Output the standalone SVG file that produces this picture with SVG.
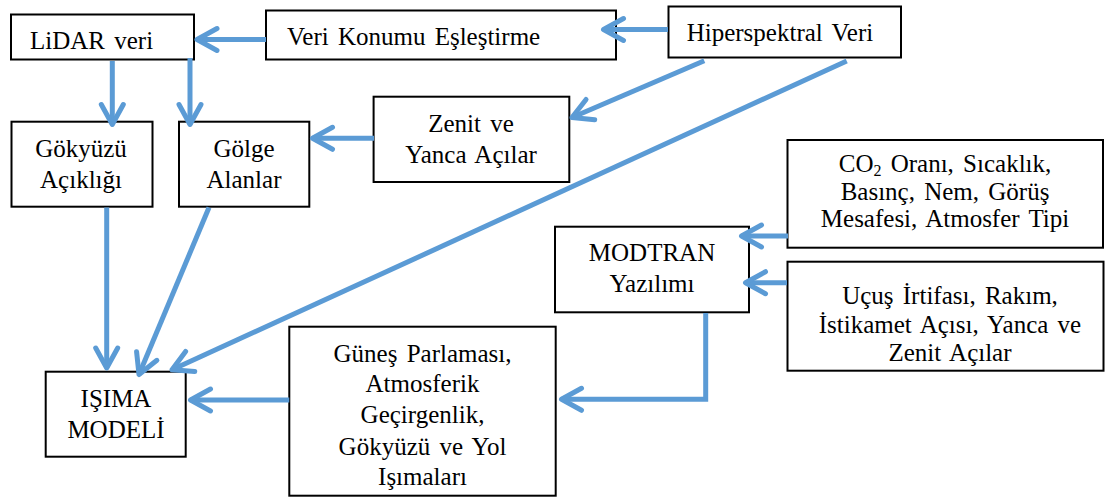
<svg xmlns="http://www.w3.org/2000/svg" width="1105" height="498" viewBox="0 0 1105 498">
<defs>
<style>
.box{fill:#fff;stroke:#000;stroke-width:2}
.t{font-family:"Liberation Serif","Times New Roman",serif;font-size:25px;fill:#000;word-spacing:3px}
.c{text-anchor:middle}
.con{fill:none;stroke:#5B9BD5;stroke-width:5;stroke-linejoin:miter;marker-end:url(#ah)}
</style>
<marker id="ah" markerUnits="userSpaceOnUse" markerWidth="40" markerHeight="40" viewBox="-30 -20 40 40" refX="0" refY="0" orient="auto">
<path d="M-20,-11 L0,0 L-20,11" fill="none" stroke="#5B9BD5" stroke-width="5" stroke-linecap="round" stroke-linejoin="round"/>
</marker>
</defs>
<rect width="1105" height="498" fill="#fff"/>
<g id="lidar">
<rect class="box" x="11" y="14.5" width="183" height="45"/>
<text class="t" x="30" y="49.3">LiDAR veri</text>
</g>
<g id="veri-konumu">
<rect class="box" x="266" y="10.5" width="350" height="49"/>
<text class="t" x="287" y="45.3">Veri Konumu Eşleştirme</text>
</g>
<g id="hiperspektral">
<rect class="box" x="668.5" y="6.5" width="232.5" height="51"/>
<text class="t" x="686.7" y="40.7">Hiperspektral Veri</text>
</g>
<g id="gokyuzu">
<rect class="box" x="11.5" y="121.7" width="141" height="85"/>
<text class="t c" x="81" y="157">Gökyüzü</text>
<text class="t c" x="81" y="188">Açıklığı</text>
</g>
<g id="golge">
<rect class="box" x="179" y="121.7" width="130.3" height="85"/>
<text class="t c" x="244" y="157">Gölge</text>
<text class="t c" x="244" y="188">Alanlar</text>
</g>
<g id="zenit">
<rect class="box" x="373.6" y="96.7" width="195.7" height="85.3"/>
<text class="t c" x="471" y="131.7">Zenit ve</text>
<text class="t c" x="471" y="163.3">Yanca Açılar</text>
</g>
<g id="modtran">
<rect class="box" x="555" y="226.7" width="194" height="85.6"/>
<text class="t c" x="652" y="261">MODTRAN</text>
<text class="t c" x="652" y="291.7">Yazılımı</text>
</g>
<g id="atmosfer">
<rect class="box" x="787.5" y="140" width="315.5" height="107.7"/>
<text class="t c" x="945" y="171.7">CO<tspan font-size="16" dy="4">2</tspan><tspan dy="-4"> Oranı, Sıcaklık,</tspan></text>
<text class="t c" x="945" y="199.5">Basınç, Nem, Görüş</text>
<text class="t c" x="945" y="227">Mesafesi, Atmosfer Tipi</text>
</g>
<g id="ucus">
<rect class="box" x="787.5" y="261.7" width="316" height="109"/>
<text class="t c" x="950" y="304">Uçuş İrtifası, Rakım,</text>
<text class="t c" x="950" y="333">İstikamet Açısı, Yanca ve</text>
<text class="t c" x="950" y="360.5">Zenit Açılar</text>
</g>
<g id="gunes">
<rect class="box" x="289.3" y="326.7" width="266.4" height="169"/>
<text class="t c" x="422.5" y="361.7">Güneş Parlaması,</text>
<text class="t c" x="422.5" y="391.7">Atmosferik</text>
<text class="t c" x="422.5" y="423.3">Geçirgenlik,</text>
<text class="t c" x="422.5" y="455">Gökyüzü ve Yol</text>
<text class="t c" x="422.5" y="485">Işımaları</text>
</g>
<g id="isima">
<rect class="box" x="45.7" y="371.7" width="140" height="85"/>
<text class="t c" x="116" y="406.7">IŞIMA</text>
<text class="t c" x="116" y="438.3">MODELİ</text>
</g>
<g id="connectors">
<path class="con" d="M266,39.5 L197,39.5"/>
<path class="con" d="M668,29.5 L603.5,29.5"/>
<path class="con" d="M112.3,61 L112.3,124.5"/>
<path class="con" d="M190,58 L190,124.5"/>
<path class="con" d="M374,138.3 L312.5,138.3"/>
<path class="con" d="M704.3,60.7 L572,117.5"/>
<path class="con" d="M846.7,61 L172,369.8"/>
<path class="con" d="M106.7,207.5 L106.7,368"/>
<path class="con" d="M209,207.5 L139,374.5"/>
<path class="con" d="M289.3,400 L190.5,400"/>
<path class="con" d="M788,236 L741.5,236"/>
<path class="con" d="M787,282.7 L745.5,282.7"/>
<path class="con" d="M705.7,313 L705.7,399.3 L561.5,399.3"/>
</g>
</svg>
